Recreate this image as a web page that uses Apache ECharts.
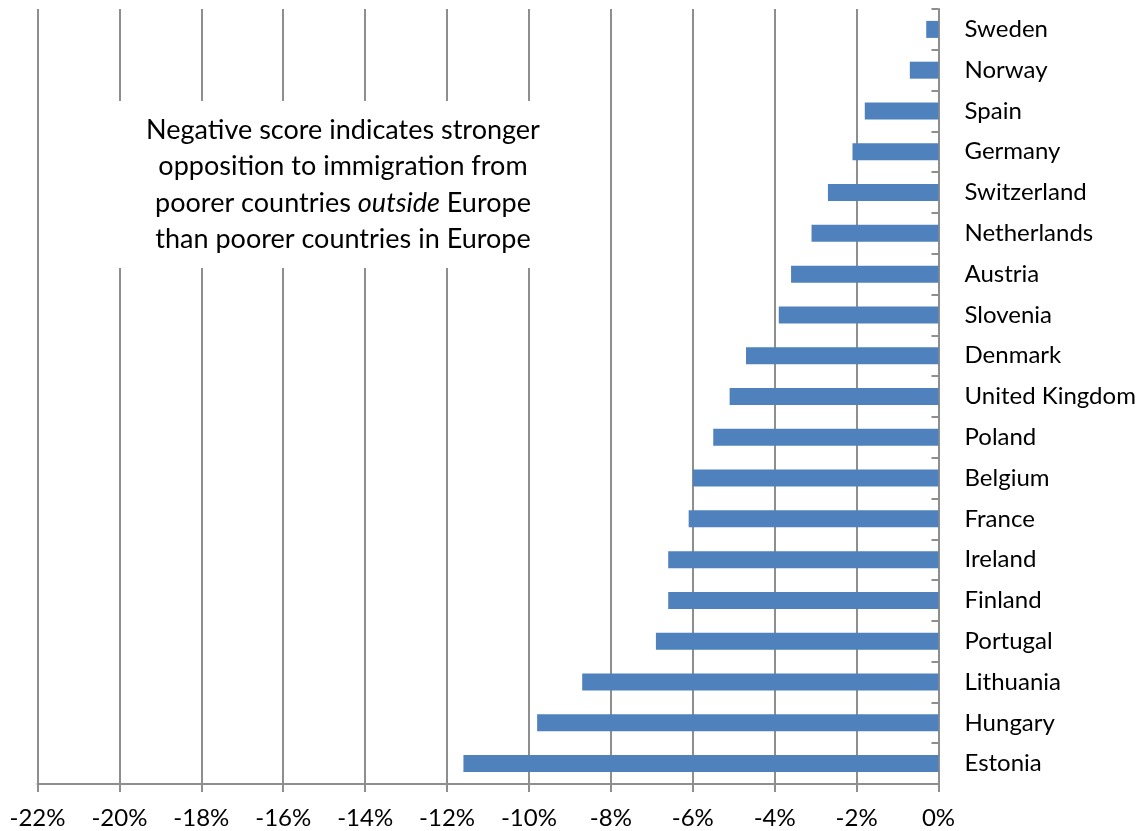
<!DOCTYPE html>
<html>
<head>
<meta charset="utf-8">
<script src="https://cdn.jsdelivr.net/npm/echarts@6/dist/echarts.min.js"></script>
<style>
  html, body { margin: 0; padding: 0; background: #ffffff; }
  #chart { width: 1145px; height: 831px; }
</style>
</head>
<body>
<div id="chart"></div>
<script>
// Countries, top to bottom
const countries = [
  'Sweden', 'Norway', 'Spain', 'Germany', 'Switzerland', 'Netherlands',
  'Austria', 'Slovenia', 'Denmark', 'United Kingdom', 'Poland', 'Belgium',
  'France', 'Ireland', 'Finland', 'Portugal', 'Lithuania', 'Hungary', 'Estonia'
];

// Score difference, in percent
const scores = [
  -0.3, -0.7, -1.8, -2.1, -2.7, -3.1,
  -3.6, -3.9, -4.7, -5.1, -5.5, -6.0,
  -6.1, -6.6, -6.6, -6.9, -8.7, -9.8, -11.6
];

// Horizontal axis range and step, in percent
const axisMin = -22;
const axisMax = 0;
const axisStep = 2;

// Note shown in the empty part of the plot
const noteLines = [
  [{ t: 'Negative score indicates stronger' }],
  [{ t: 'opposition to immigration from' }],
  [{ t: 'poorer countries ' }, { t: 'outside', style: 'it' }, { t: ' Europe' }],
  [{ t: 'than poorer countries in Europe' }]
];

const FONT = 'Lato, "Open Sans", sans-serif';
const GRAY = '#8e8e8e';
const NOTE_SIZE = 27;

const noteText = noteLines
  .map(line => line.map(p => p.style ? '{' + p.style + '|' + p.t + '}' : '{n|' + p.t + '}').join(''))
  .join('\n');

const chart = echarts.init(document.getElementById('chart'), null, { renderer: 'canvas' });

chart.setOption({
  animation: false,
  backgroundColor: '#ffffff',
  grid: { left: 37.5, right: 206.5, top: 9, bottom: 47, containLabel: false },
  xAxis: {
    type: 'value',
    min: axisMin,
    max: axisMax,
    interval: axisStep,
    axisLine: { show: true, lineStyle: { color: GRAY, width: 2 } },
    axisTick: { show: true, length: 8, lineStyle: { color: GRAY, width: 2 } },
    splitLine: { show: true, lineStyle: { color: GRAY, width: 2 } },
    axisLabel: {
      margin: 22,
      fontFamily: FONT,
      fontSize: 24,
      color: '#000000',
      formatter: v => v + '%'
    }
  },
  yAxis: {
    type: 'category',
    data: countries,
    inverse: true,
    position: 'right',
    axisLine: { show: true, lineStyle: { color: GRAY, width: 2 } },
    axisTick: { show: true, inside: true, length: 7, lineStyle: { color: GRAY, width: 2 } },
    splitLine: { show: false },
    axisLabel: {
      margin: 26,
      fontFamily: FONT,
      fontSize: 24,
      color: '#000000',
      align: 'left'
    }
  },
  series: [{
    type: 'bar',
    data: scores,
    barWidth: 17,
    itemStyle: { color: '#4f81bd' },
    z: 3
  }],
  graphic: [{
    type: 'group',
    z: 100,
    children: [
      {
        type: 'rect',
        shape: { x: 105, y: 101, width: 476, height: 167 },
        style: { fill: '#ffffff' },
        z: 100
      },
      {
        type: 'text',
        x: 343,
        y: 185,
        z: 101,
        style: {
          text: noteText,
          align: 'center',
          verticalAlign: 'middle',
          fontFamily: FONT,
          fontSize: NOTE_SIZE,
          lineHeight: 36.5,
          fill: '#000000',
          rich: {
            n: { fontFamily: FONT, fontSize: NOTE_SIZE, lineHeight: 36.5, fill: '#000000' },
            it: { fontFamily: FONT, fontSize: NOTE_SIZE, lineHeight: 36.5, fontStyle: 'italic', fill: '#000000' }
          }
        }
      }
    ]
  }]
});
</script>
</body>
</html>
